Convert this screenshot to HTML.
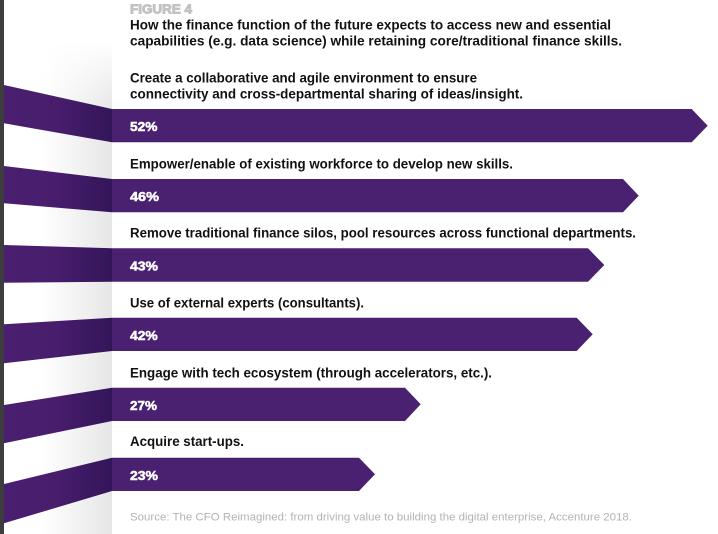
<!DOCTYPE html>
<html>
<head>
<meta charset="utf-8">
<style>
  html, body { margin:0; padding:0; background:#ffffff; }
  body { width:718px; height:534px; overflow:hidden; }
  svg { display:block; }
  .t { font-family:"Liberation Sans", Arial, sans-serif; font-weight:bold; font-size:13.4px; fill:#111111; }
  .p { font-family:"Liberation Sans", Arial, sans-serif; font-weight:bold; font-size:13px; fill:#ffffff; stroke:#ffffff; stroke-width:0.5; }
  .fig { font-family:"Liberation Sans", Arial, sans-serif; font-weight:bold; font-size:12.5px; fill:#c2c2c2; stroke:#c2c2c2; stroke-width:0.9; }
  .src { font-family:"Liberation Sans", Arial, sans-serif; font-weight:normal; font-size:11px; fill:#b3b3b3; }
</style>
</head>
<body>
<svg width="718" height="534" viewBox="0 0 718 534" xmlns="http://www.w3.org/2000/svg">
  <defs>
    <linearGradient id="shadeH" x1="4" y1="0" x2="112" y2="0" gradientUnits="userSpaceOnUse">
      <stop offset="0" stop-color="#ffffff"/>
      <stop offset="0.35" stop-color="#ffffff"/>
      <stop offset="1" stop-color="#e6e6e6"/>
    </linearGradient>
    <linearGradient id="fadeV" x1="0" y1="40" x2="0" y2="110" gradientUnits="userSpaceOnUse">
      <stop offset="0" stop-color="#000"/>
      <stop offset="1" stop-color="#fff"/>
    </linearGradient>
    <mask id="m1" maskUnits="userSpaceOnUse" x="0" y="0" width="718" height="534">
      <rect x="0" y="0" width="718" height="534" fill="url(#fadeV)"/>
    </mask>
    <linearGradient id="foldP" x1="4" y1="0" x2="112" y2="0" gradientUnits="userSpaceOnUse">
      <stop offset="0" stop-color="#4a1f70"/>
      <stop offset="0.5" stop-color="#471d6c"/>
      <stop offset="1" stop-color="#33155a"/>
    </linearGradient>
  </defs>

  <rect x="0" y="0" width="718" height="534" fill="#ffffff"/>
  <rect x="4" y="30" width="108" height="504" fill="url(#shadeH)" mask="url(#m1)"/>
  <rect x="0" y="0" width="4" height="534" fill="#3d3d3d"/>

  <g fill="url(#foldP)">
    <polygon points="4,85 112,109 112,142.3 4,123.3"/>
    <polygon points="4,166 112,179 112,212.3 4,203.3"/>
    <polygon points="4,245 112,248.3 112,281.7 4,282.7"/>
    <polygon points="4,324.3 112,317.7 112,351 4,363.3"/>
    <polygon points="4,405 112,387.7 112,421 4,443.3"/>
    <polygon points="4,484 112,457.7 112,491 4,523.3"/>
  </g>

  <g fill="#4a2070">
    <polygon points="112,109 691.7,109 707.7,125.7 691.7,142.3 112,142.3"/>
    <polygon points="112,179 623,179 638.7,195.7 623,212.3 112,212.3"/>
    <polygon points="112,248.3 588,248.3 604.3,265 588,281.7 112,281.7"/>
    <polygon points="112,317.7 576.7,317.7 592.7,334.3 576.7,351 112,351"/>
    <polygon points="112,387.7 405,387.7 420.7,404.3 405,421 112,421"/>
    <polygon points="112,457.7 359,457.7 375,474.3 359,491 112,491"/>
  </g>

  <text class="fig" x="130" y="13.3" textLength="62" lengthAdjust="spacingAndGlyphs">FIGURE 4</text>
  <text class="t" x="130" y="29.3" textLength="481" lengthAdjust="spacingAndGlyphs">How the finance function of the future expects to access new and essential</text>
  <text class="t" x="130" y="45.5" textLength="492" lengthAdjust="spacingAndGlyphs">capabilities (e.g. data science) while retaining core/traditional finance skills.</text>

  <text class="t" x="130" y="82.5" textLength="347" lengthAdjust="spacingAndGlyphs">Create a collaborative and agile environment to ensure</text>
  <text class="t" x="130" y="98.5" textLength="393" lengthAdjust="spacingAndGlyphs">connectivity and cross-departmental sharing of ideas/insight.</text>
  <text class="t" x="130" y="168.3" textLength="383" lengthAdjust="spacingAndGlyphs">Empower/enable of existing workforce to develop new skills.</text>
  <text class="t" x="130" y="237.5" textLength="506" lengthAdjust="spacingAndGlyphs">Remove traditional finance silos, pool resources across functional departments.</text>
  <text class="t" x="130" y="307.3" textLength="234" lengthAdjust="spacingAndGlyphs">Use of external experts (consultants).</text>
  <text class="t" x="130" y="377.3" textLength="362" lengthAdjust="spacingAndGlyphs">Engage with tech ecosystem (through accelerators, etc.).</text>
  <text class="t" x="130" y="446" textLength="114" lengthAdjust="spacingAndGlyphs">Acquire start-ups.</text>

  <text class="p" x="130" y="131" textLength="27.5" lengthAdjust="spacingAndGlyphs">52%</text>
  <text class="p" x="130" y="201" textLength="29" lengthAdjust="spacingAndGlyphs">46%</text>
  <text class="p" x="130" y="270.5" textLength="28" lengthAdjust="spacingAndGlyphs">43%</text>
  <text class="p" x="130" y="340" textLength="27.7" lengthAdjust="spacingAndGlyphs">42%</text>
  <text class="p" x="130" y="410" textLength="27" lengthAdjust="spacingAndGlyphs">27%</text>
  <text class="p" x="130" y="480" textLength="28" lengthAdjust="spacingAndGlyphs">23%</text>

  <text class="src" x="130" y="520.7" textLength="502" lengthAdjust="spacingAndGlyphs">Source: The CFO Reimagined: from driving value to building the digital enterprise, Accenture 2018.</text>
</svg>
</body>
</html>
